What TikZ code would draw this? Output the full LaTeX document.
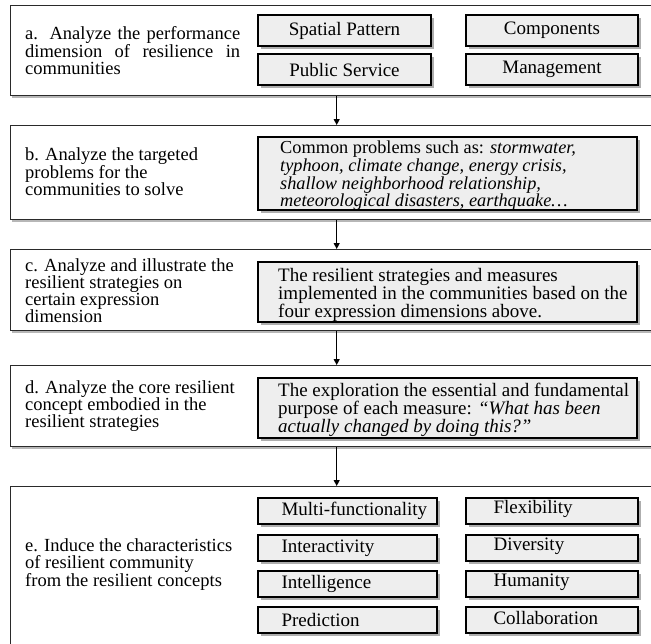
\documentclass[tikz,border=0pt]{standalone}
\usepackage{fontspec}
\setmainfont{Liberation Serif}
\usetikzlibrary{shadows,arrows.meta}
\definecolor{boxfill}{HTML}{EEEEEE}
\definecolor{edge}{HTML}{2A2A2A}
\begin{document}
\begin{tikzpicture}[x=1pt,y=-1pt,
  outer/.style={draw=edge, line width=1.4pt, fill=white, rectangle, anchor=north west,
    inner sep=0pt, minimum width=652pt,
    drop shadow={shadow xshift=1.5pt, shadow yshift=-2pt, fill=black!40, opacity=0.7}},
  inbox/.style={draw=black, line width=1.3pt, fill=boxfill, rectangle, inner sep=0pt,
    drop shadow={shadow xshift=2.5pt, shadow yshift=-2.5pt, fill=black!45, opacity=0.7}},
  lefttext/.style={anchor=west, inner sep=0pt, align=left,
    font=\fontsize{18.5}{17}\selectfont},
  intext/.style={anchor=west, inner sep=0pt, align=left,
    font=\fontsize{19}{17}\selectfont},
  itemfont/.style={font=\fontsize{19}{19}\selectfont},
  arr/.style={draw=black, line width=1.2pt, -{Triangle[width=6pt,length=6pt]}}
]
\useasboundingbox (0,0) rectangle (651,643);
\clip (0,0) rectangle (651,643);
\fill[white] (0,0) rectangle (651,643);

% outer boxes
\node[outer, minimum height=90pt] (A) at (10,5) {};
\node[outer, minimum height=94pt] (B) at (10,125) {};
\node[outer, minimum height=81pt] (C) at (10,249) {};
\node[outer, minimum height=81pt] (D) at (10,365) {};
\node[outer, minimum height=200pt] (E) at (10,486) {};

% arrows
\draw[arr] (A.south) -- (B.north);
\draw[arr] (B.south) -- (C.north);
\draw[arr] (C.south) -- (D.north);
\draw[arr] (D.south) -- (E.north);

% left texts
\node[lefttext, text width=215pt, align=justify] (ta) at (25,51)
  {\hyphenpenalty=10000 a. Analyze the performance dimension of resilience in communities};
\node[lefttext] (tb) at (25,172) {b. Analyze the targeted\\problems for the\\communities to solve};
\node[lefttext] (tc) at (25,291) {c. Analyze and illustrate the\\resilient strategies on\\certain expression\\dimension};
\node[lefttext] (td) at (25,406) {d. Analyze the core resilient\\concept embodied in the\\resilient strategies};
\node[lefttext] (te) at (25,565) {e. Induce the characteristics\\of resilient community\\from the resilient concepts};

% box a items
\node[inbox, itemfont, minimum width=173pt, minimum height=31pt] (a1) at (344.5,30.5) {Spatial Pattern};
\node[inbox, itemfont, minimum width=172pt, minimum height=31pt] (a2) at (552,30.5) {Components};
\node[inbox, itemfont, minimum width=173pt, minimum height=31pt] (a3) at (344.5,69.5) {Public Service};
\node[inbox, itemfont, minimum width=172pt, minimum height=31pt] (a4) at (552,69.5) {Management};

% box b
\node[inbox, minimum width=379pt, minimum height=73pt] (bb) at (447.5,173.5) {};
\node[intext, font=\fontsize{18.3}{16.3}\selectfont] (bt) at (280,176)
  {Common problems such as: \textit{stormwater,}\\
   \textit{typhoon, climate change, energy crisis,}\\
   \textit{shallow neighborhood relationship,}\\
   \textit{meteorological disasters, earthquake\dots}};

% box c
\node[inbox, minimum width=379pt, minimum height=60pt] (cb) at (447.5,292) {};
\node[intext] (ct) at (278,295)
  {The resilient strategies and measures\\
   implemented in the communities based on the\\
   four expression dimensions above.};

% box d
\node[inbox, minimum width=379pt, minimum height=60pt] (db) at (447.5,408) {};
\node[intext] (dt) at (278,410)
  {The exploration the essential and fundamental\\
   purpose of each measure: \textit{``What has been}\\
   \textit{actually changed by doing this?''}};

% box e items
\node[inbox, minimum width=179pt, minimum height=26pt] (e1) at (347.5,511) {};
\node[inbox, minimum width=179pt, minimum height=26pt] (e2) at (347.5,548) {};
\node[inbox, minimum width=179pt, minimum height=26pt] (e3) at (347.5,584) {};
\node[inbox, minimum width=179pt, minimum height=26pt] (e4) at (347.5,620) {};
\node[inbox, minimum width=172pt, minimum height=26pt] (f1) at (552,511) {};
\node[inbox, minimum width=172pt, minimum height=26pt] (f2) at (552,548) {};
\node[inbox, minimum width=172pt, minimum height=26pt] (f3) at (552,584) {};
\node[inbox, minimum width=172pt, minimum height=26pt] (f4) at (552,620) {};

\node[intext, itemfont] (e1t) at ([xshift=24pt]e1.west) {Multi-functionality};
\node[intext, itemfont] (e2t) at ([xshift=24pt]e2.west) {Interactivity};
\node[intext, itemfont] (e3t) at ([xshift=24pt]e3.west) {Intelligence};
\node[intext, itemfont] (e4t) at ([xshift=24pt]e4.west) {Prediction};
\node[intext, itemfont] (f1t) at ([xshift=28pt,yshift=2pt]f1.west) {Flexibility};
\node[intext, itemfont] (f2t) at ([xshift=28pt,yshift=2pt]f2.west) {Diversity};
\node[intext, itemfont] (f3t) at ([xshift=28pt,yshift=2pt]f3.west) {Humanity};
\node[intext, itemfont] (f4t) at ([xshift=28pt,yshift=2pt]f4.west) {Collaboration};
\end{tikzpicture}
\end{document}
